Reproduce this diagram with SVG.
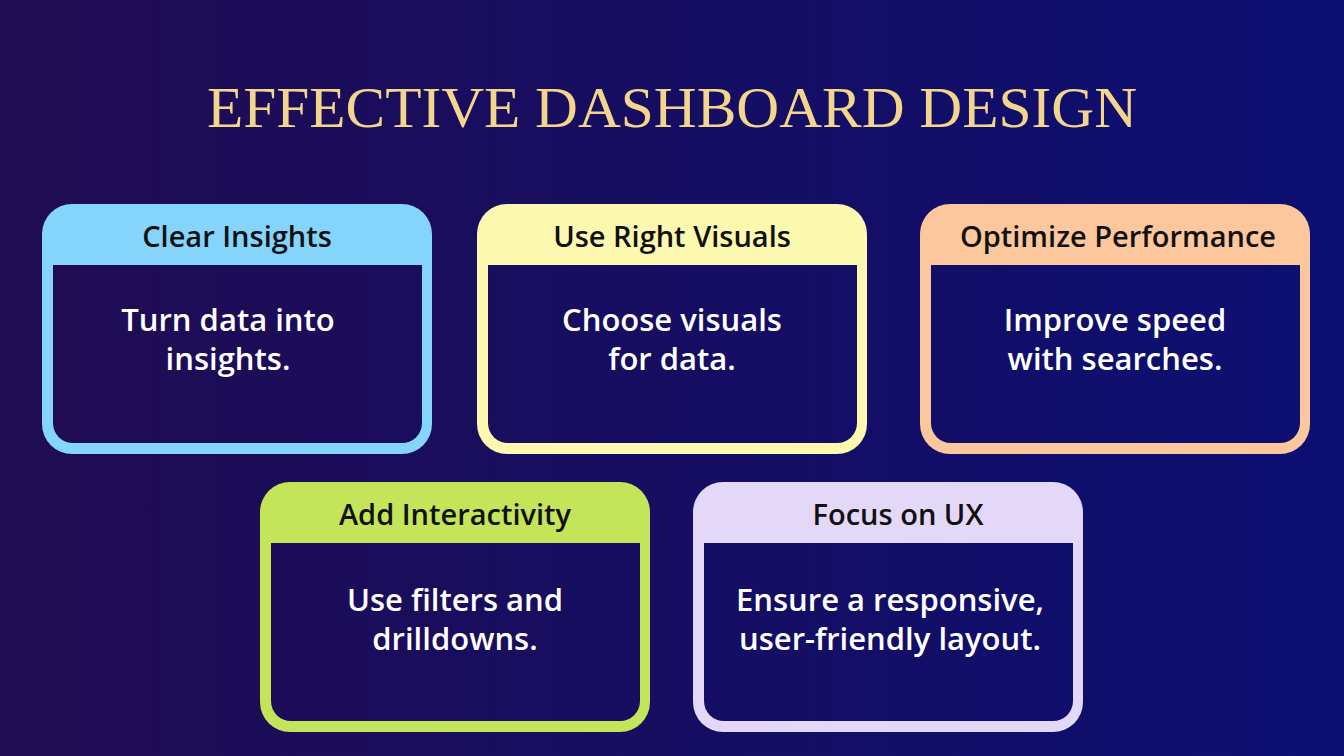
<svg xmlns="http://www.w3.org/2000/svg" width="1344" height="756" viewBox="0 0 1344 756">
<defs>
<linearGradient id="bg" x1="0" y1="0" x2="1344" y2="0" gradientUnits="userSpaceOnUse">
<stop offset="0" stop-color="#200c52"/><stop offset="1" stop-color="#0c0f72"/>
</linearGradient>
<style>
.h{font-family:"Open Sans","Liberation Sans",sans-serif;font-size:29px;font-weight:600;fill:#111;text-anchor:middle}
.b{font-family:"Open Sans","Liberation Sans",sans-serif;font-size:31px;font-weight:600;fill:#fff;text-anchor:middle}
.in{fill:url(#bg)}
</style>
</defs>
<rect width="1344" height="756" fill="url(#bg)"/>
<text x="672" y="127" text-anchor="middle" font-family="Liberation Serif,serif" font-size="58" fill="#f3d68c" textLength="930" lengthAdjust="spacingAndGlyphs">EFFECTIVE DASHBOARD DESIGN</text>
<g id="n1"><rect x="42" y="204" width="390" height="250" rx="30" fill="#84d4fc"/><path class="in" d="M53 265H422V423a20 20 0 0 1-20 20H73a20 20 0 0 1-20-20Z"/>
<text class="h" x="237" y="247">Clear Insights</text><text class="b" x="228" y="331">Turn data into</text><text class="b" x="228" y="370">insights.</text></g>
<g id="n2"><rect x="477" y="204" width="390" height="250" rx="30" fill="#fdf8b0"/><path class="in" d="M488 265H857V423a20 20 0 0 1-20 20H508a20 20 0 0 1-20-20Z"/>
<text class="h" x="672" y="247">Use Right Visuals</text><text class="b" x="672" y="331">Choose visuals</text><text class="b" x="672" y="370">for data.</text></g>
<g id="n3"><rect x="920" y="204" width="390" height="250" rx="30" fill="#fcc79c"/><path class="in" d="M931 265H1300V423a20 20 0 0 1-20 20H951a20 20 0 0 1-20-20Z"/>
<text class="h" x="1118" y="247">Optimize Performance</text><text class="b" x="1115" y="331">Improve speed</text><text class="b" x="1115" y="370">with searches.</text></g>
<g id="n4"><rect x="260" y="482" width="390" height="250" rx="30" fill="#c4e45a"/><path class="in" d="M271 543H640V701a20 20 0 0 1-20 20H291a20 20 0 0 1-20-20Z"/>
<text class="h" x="455" y="525">Add Interactivity</text><text class="b" x="455" y="611">Use filters and</text><text class="b" x="455" y="650">drilldowns.</text></g>
<g id="n5"><rect x="693" y="482" width="390" height="250" rx="30" fill="#e4d8f8"/><path class="in" d="M704 543H1073V701a20 20 0 0 1-20 20H724a20 20 0 0 1-20-20Z"/>
<text class="h" x="898" y="525">Focus on UX</text><text class="b" x="890" y="611">Ensure a responsive,</text><text class="b" x="890" y="650">user-friendly layout.</text></g>
<g id="connectors"/>
</svg>
